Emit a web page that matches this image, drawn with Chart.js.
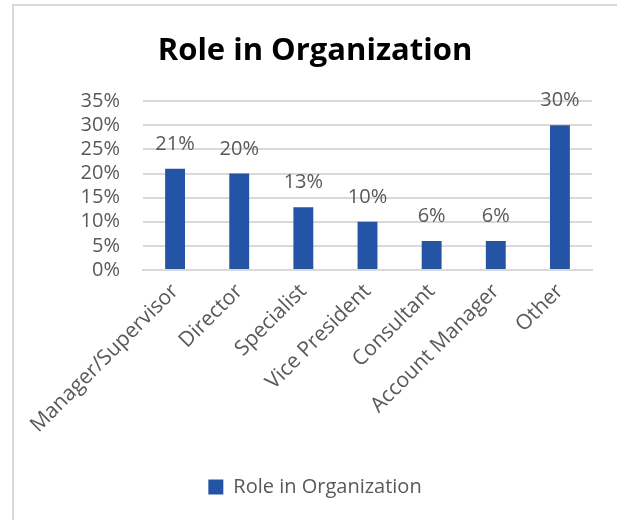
<!DOCTYPE html>
<html>
<head>
<meta charset="utf-8">
<script src="https://cdn.jsdelivr.net/npm/chart.js@4.4.1/dist/chart.umd.min.js"></script>
<style>
  html, body { margin: 0; padding: 0; background: #fff; }
  #wrap { position: relative; width: 617px; height: 520px; }
  #frame { position: absolute; left: 12px; top: 4px; width: 640px; height: 560px;
           border-left: 2px solid #d9d9d9; border-top: 2px solid #d9d9d9; }
  canvas { position: absolute; left: 0; top: 0; }
</style>
</head>
<body>
<div id="wrap">
  <div id="frame"></div>
  <canvas id="roleChart" width="617" height="520"></canvas>
</div>
<script>
const roles = ['Manager/Supervisor', 'Director', 'Specialist', 'Vice President', 'Consultant', 'Account Manager', 'Other'];
const shares = [21, 20, 13, 10, 6, 6, 30];
const yTicks = [0, 5, 10, 15, 20, 25, 30, 35];

const textColor = '#595959';
const barColor = '#2554a6';
const fontName = '"Open Sans", "Liberation Sans", sans-serif';

// labels above each bar
const valueLabels = {
    id: 'valueLabels',
    afterDatasetsDraw(chart) {
        const ctx = chart.ctx;
        const meta = chart.getDatasetMeta(0);
        ctx.save();
        ctx.fillStyle = textColor;
        ctx.font = '20px ' + fontName;
        ctx.textAlign = 'center';
        ctx.textBaseline = 'alphabetic';
        meta.data.forEach((bar, i) => {
            ctx.fillText(shares[i] + '%', bar.x, bar.y - 19);
        });
        ctx.restore();
    }
};

function createChart() {
    const ctx = document.getElementById('roleChart').getContext('2d');
    return new Chart(ctx, {
        type: 'bar',
        data: {
            labels: roles,
            datasets: [{
                label: 'Role in Organization',
                data: shares,
                backgroundColor: barColor,
                borderWidth: 0,
                barPercentage: 0.31,
                categoryPercentage: 1
            }]
        },
        options: {
            responsive: false,
            animation: false,
            layout: { padding: { left: 13, right: 0, top: 33, bottom: 13 } },
            plugins: {
                title: {
                    display: true,
                    text: 'Role in Organization',
                    color: '#000',
                    font: { family: fontName, size: 31, weight: 'bold' },
                    padding: { top: 0, bottom: 31 }
                },
                legend: {
                    position: 'bottom',
                    labels: {
                        color: textColor,
                        font: { family: fontName, size: 20 },
                        boxWidth: 15,
                        boxHeight: 15,
                        padding: 6
                    }
                },
                tooltip: { enabled: false }
            },
            scales: {
                x: {
                    afterFit(scale) { scale.height = 201; },
                    grid: { display: false, drawTicks: false },
                    border: { color: '#d9d9d9', width: 2 },
                    ticks: {
                        color: textColor,
                        font: { family: fontName, size: 21 },
                        minRotation: 45,
                        maxRotation: 45,
                        padding: 9,
                        autoSkip: false
                    }
                },
                y: {
                    min: 0,
                    max: 35,
                    afterBuildTicks(scale) {
                        scale.ticks = yTicks.map(v => ({ value: v }));
                    },
                    afterFit(scale) { scale.width = 130; },
                    grid: { color: '#d9d9d9', lineWidth: 2, drawTicks: false },
                    border: { display: false },
                    ticks: {
                        color: textColor,
                        font: { family: fontName, size: 20 },
                        padding: 23,
                        autoSkip: false,
                        callback: v => v + '%'
                    }
                },
                // empty right-hand space so the title and legend centre on the frame
                spacer: {
                    position: 'right',
                    display: true,
                    afterFit(scale) { scale.width = 25; },
                    grid: { display: false, drawTicks: false },
                    border: { display: false },
                    ticks: { display: false }
                }
            }
        },
        plugins: [valueLabels]
    });
}

createChart();
</script>
</body>
</html>
